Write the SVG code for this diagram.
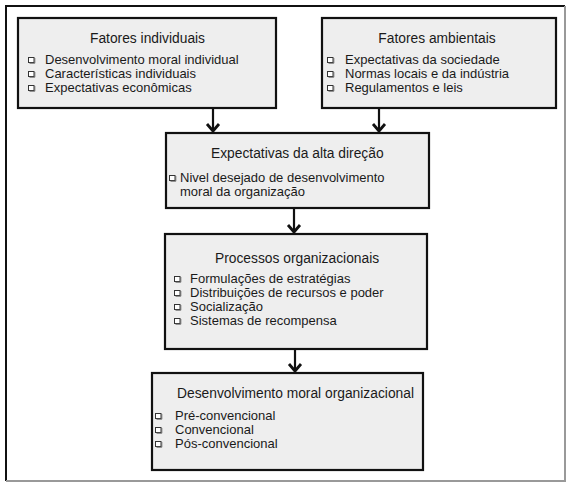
<svg xmlns="http://www.w3.org/2000/svg" xmlns:xlink="http://www.w3.org/1999/xlink" width="574" height="487" viewBox="0 0 574 487">
<style>
.box{fill:#eeeeee;stroke:#111;stroke-width:2.2}
.t{font-family:"Liberation Sans",Arial,sans-serif;font-size:13.8px;fill:#1a1a1a}
.i{font-family:"Liberation Sans",Arial,sans-serif;font-size:13px;fill:#1a1a1a}
.c{stroke:#111;stroke-width:2.2;fill:none}
</style>
<defs>
<marker id="ah" markerUnits="userSpaceOnUse" markerWidth="20" markerHeight="20" orient="auto" refX="0" refY="0" overflow="visible">
<path d="M-7,-6 L0,0 L-7,6" fill="none" stroke="#111" stroke-width="2.8" stroke-linejoin="miter"/>
</marker>
<g id="b">
<rect x="0.5" y="-6.5" width="5.5" height="5" fill="#fff" stroke="#333" stroke-width="1"/>
<path d="M1.5,-0.8 H6.8 V-6" fill="none" stroke="#666" stroke-width="1"/>
</g>
</defs>
<rect x="0" y="0" width="574" height="487" fill="#fff"/>
<g id="frame">
<path d="M6,481 V6 H565" fill="none" stroke="#111" stroke-width="2"/>
<path d="M565,6 V481 H6" fill="none" stroke="#999" stroke-width="2"/>
</g>
<g id="connectors">
<path class="c" d="M213,108 V131" marker-end="url(#ah)"/>
<path class="c" d="M379,108 V131" marker-end="url(#ah)"/>
<path class="c" d="M294,208 V232" marker-end="url(#ah)"/>
<path class="c" d="M295,349 V371" marker-end="url(#ah)"/>
</g>
<g id="fatores-individuais">
<rect class="box" x="18" y="18" width="258" height="90"/>
<text class="t" x="147.5" y="43" text-anchor="middle">Fatores individuais</text>
<use xlink:href="#b" x="28" y="64"/>
<text class="i" x="45" y="64">Desenvolvimento moral individual</text>
<use xlink:href="#b" x="28" y="78"/>
<text class="i" x="45" y="78">Características individuais</text>
<use xlink:href="#b" x="28" y="92"/>
<text class="i" x="45" y="92">Expectativas econômicas</text>
</g>
<g id="fatores-ambientais">
<rect class="box" x="322" y="18" width="234" height="90"/>
<text class="t" x="437" y="43" text-anchor="middle">Fatores ambientais</text>
<use xlink:href="#b" x="327" y="64"/>
<text class="i" x="345" y="64">Expectativas da sociedade</text>
<use xlink:href="#b" x="327" y="78"/>
<text class="i" x="345" y="78">Normas locais e da indústria</text>
<use xlink:href="#b" x="327" y="92"/>
<text class="i" x="345" y="92">Regulamentos e leis</text>
</g>
<g id="expectativas-alta-direcao">
<rect class="box" x="166" y="133" width="263" height="75"/>
<text class="t" x="211" y="158">Expectativas da alta direção</text>
<use xlink:href="#b" x="169" y="182"/>
<text class="i" x="180" y="182">Nivel desejado de desenvolvimento</text>
<text class="i" x="180" y="196">moral da organização</text>
</g>
<g id="processos-organizacionais">
<rect class="box" x="165" y="234" width="262" height="115"/>
<text class="t" x="215" y="263">Processos organizacionais</text>
<use xlink:href="#b" x="174" y="283"/>
<text class="i" x="190" y="283">Formulações de estratégias</text>
<use xlink:href="#b" x="174" y="297"/>
<text class="i" x="190" y="297">Distribuições de recursos e poder</text>
<use xlink:href="#b" x="174" y="311"/>
<text class="i" x="190" y="311">Socialização</text>
<use xlink:href="#b" x="174" y="325"/>
<text class="i" x="190" y="325">Sistemas de recompensa</text>
</g>
<g id="desenvolvimento-moral-organizacional">
<rect class="box" x="152" y="373" width="271" height="97"/>
<text class="t" x="177" y="398">Desenvolvimento moral organizacional</text>
<use xlink:href="#b" x="155" y="420"/>
<text class="i" x="175" y="420">Pré-convencional</text>
<use xlink:href="#b" x="155" y="434"/>
<text class="i" x="175" y="434">Convencional</text>
<use xlink:href="#b" x="155" y="448"/>
<text class="i" x="175" y="448">Pós-convencional</text>
</g>
</svg>
